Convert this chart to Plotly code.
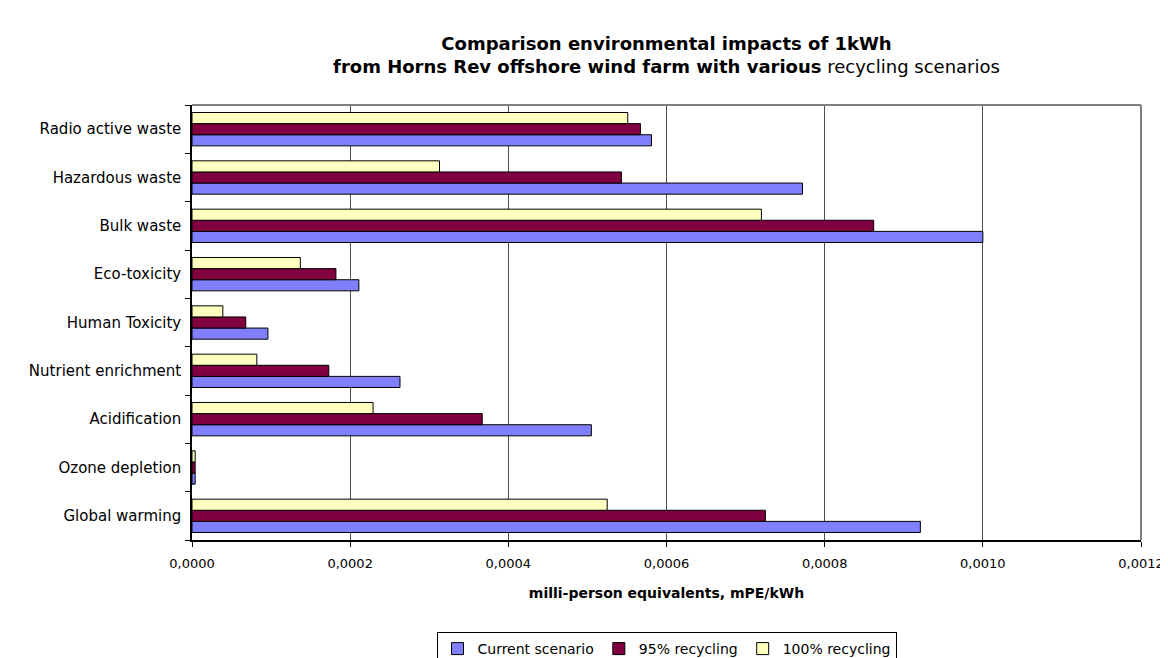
import plotly.graph_objects as go

categories = ["Global warming", "Ozone depletion", "Acidification", "Nutrient enrichment",
              "Human Toxicity", "Eco-toxicity", "Bulk waste", "Hazardous waste", "Radio active waste"]

current_scenario = [0.000921, 0.000004, 0.000505, 0.000263, 0.000096, 0.000211, 0.001000, 0.000772, 0.000581]
recycling_95 = [0.000725, 0.000004, 0.000367, 0.000173, 0.000068, 0.000182, 0.000862, 0.000543, 0.000567]
recycling_100 = [0.000525, 0.000004, 0.000229, 0.000082, 0.000039, 0.000137, 0.000720, 0.000313, 0.000551]

series_names = ["Current scenario", "95% recycling", "100% recycling"]
series_values = [current_scenario, recycling_95, recycling_100]
series_colors = ["#8080FF", "#800040", "#FFFFC0"]

FONT = "DejaVu Sans, Liberation Sans, Arial, sans-serif"

fig = go.Figure()
for name, vals, col in zip(series_names, series_values, series_colors):
    fig.add_trace(go.Bar(
        y=categories, x=vals, name=name, orientation="h",
        marker=dict(color=col, line=dict(color="black", width=1)),
    ))

fig.update_layout(
    width=1160, height=650,
    separators=", ",
    barmode="group", bargap=0.31, bargroupgap=0,
    plot_bgcolor="white", paper_bgcolor="white",
    margin=dict(l=184, r=27, t=97, b=118, autoexpand=False),
    font=dict(family=FONT, color="black", size=14),
    title=dict(
        text="<b>Comparison environmental impacts of 1kWh</b><br><b>from Horns Rev offshore wind farm with various</b> recycling scenarios",
        x=0.5, xanchor="center", xref="paper", y=0.936, yanchor="top",
        font=dict(size=18, color="black", family=FONT),
    ),
    legend=dict(
        orientation="h", x=0.5, xanchor="center", y=-0.2115, yanchor="top",
        bordercolor="black", borderwidth=1, font=dict(size=14, family=FONT),
        traceorder="normal", itemwidth=30, tracegroupgap=0,
    ),
    xaxis=dict(
        range=[0, 0.0012], dtick=0.0002, tick0=0, tickformat=".4f",
        showgrid=True, gridcolor="#505050", gridwidth=1,
        showline=True, linecolor="black", linewidth=1.5, mirror=False,
        ticks="outside", ticklen=5, tickcolor="black",
        tickfont=dict(size=13, family=FONT), ticklabelstandoff=6,
        zeroline=False, automargin=False,
        title=dict(text="<b>milli-person equivalents, mPE/kWh</b>", font=dict(size=14, family=FONT), standoff=18),
    ),
    yaxis=dict(
        showline=True, linecolor="black", linewidth=1.5,
        ticks="outside", ticklen=5, tickcolor="black", tickson="boundaries",
        showgrid=False, tickfont=dict(size=15, family=FONT), automargin=False,
        ticklabelstandoff=6,
    ),
)

# gray frame on top and right like the original chart area
fig.add_shape(type="line", xref="paper", yref="paper", x0=0, x1=1, y0=1, y1=1,
              line=dict(color="#808080", width=2))
fig.add_shape(type="line", xref="paper", yref="paper", x0=1, x1=1, y0=0, y1=1,
              line=dict(color="#808080", width=2))

fig.write_html("out.html")
